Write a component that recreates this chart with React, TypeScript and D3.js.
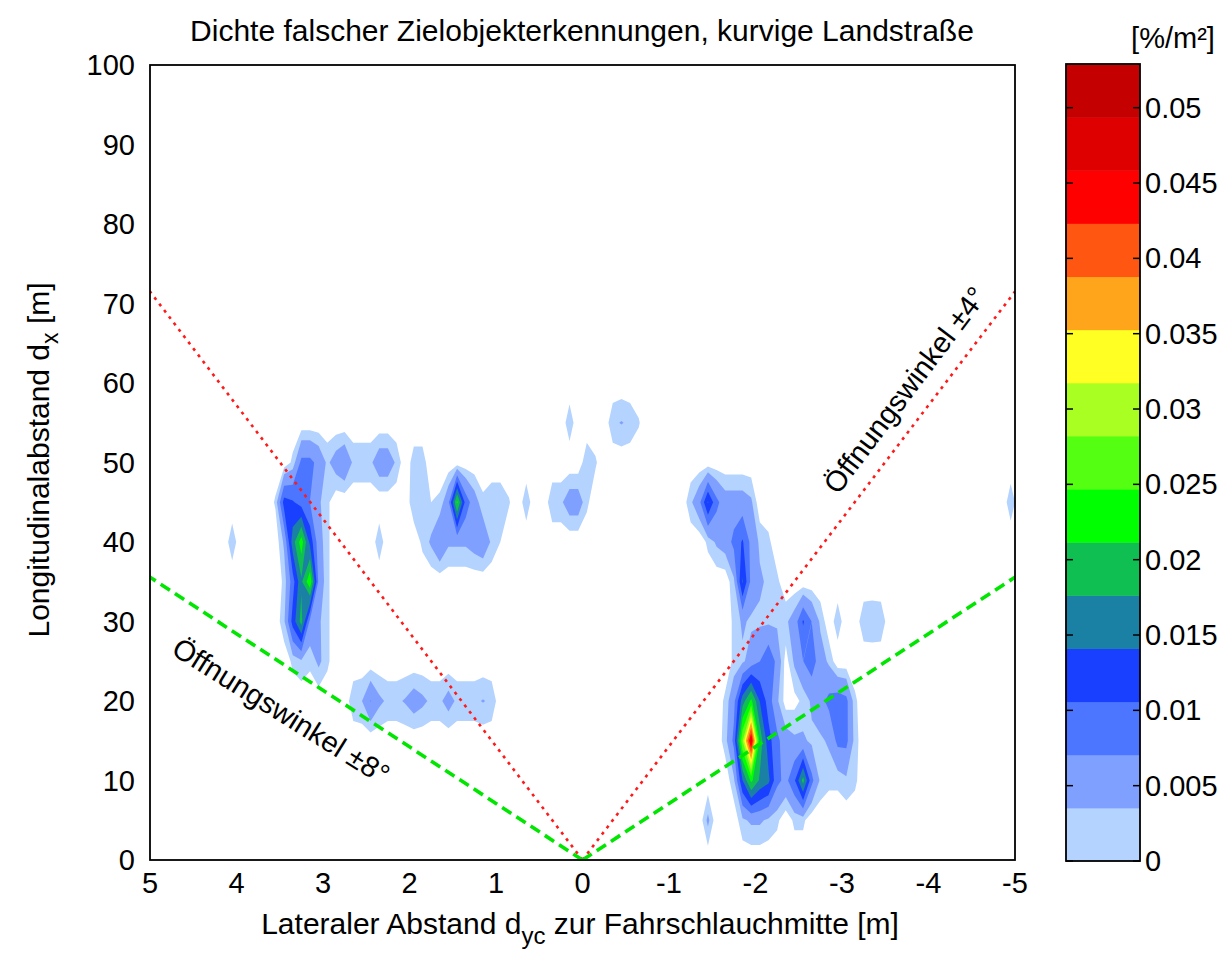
import React from "react";
import * as d3 from "d3";

const TITLE = "Dichte falscher Zielobjekterkennungen, kurvige Landstraße";
const UNIT_LABEL = "[%/m²]";
const X_TICKS = [5, 4, 3, 2, 1, 0, -1, -2, -3, -4, -5];
const Y_TICKS = [0, 10, 20, 30, 40, 50, 60, 70, 80, 90, 100];
const CB_TICKS = [0, 0.005, 0.01, 0.015, 0.02, 0.025, 0.03, 0.035, 0.04, 0.045, 0.05];
const CB_LABELS = ["0", "0.005", "0.01", "0.015", "0.02", "0.025", "0.03", "0.035", "0.04", "0.045", "0.05"];
const LEVEL_COLORS = [
  "#b4d3fe", "#80a0ff", "#4c76ff", "#1a40ff", "#1a80a4", "#10bf52", "#00ff00", "#55ff12",
  "#aaff22", "#ffff24", "#ffa51c", "#ff5612", "#ff0000", "#de0000", "#c40000",
];
const C_MAX = 0.0529;
const LOWEST_LEVEL = 0.0015;
const OPENING_ANGLES = [4, 8];

// grid: lateral cell centres 4.95 ... -4.95 (0.1 m), longitudinal rows 0 ... 100 (5 m)
const LAT_FIRST = 4.95;
const LAT_STEP = 0.1;
const N_LAT = 100;
const LON_STEP = 5;
const N_LON = 21;

// [lateral m, longitudinal m, density %/m²]
const CELLS_LEFT_BLOB: [number, number, number][] = [
  [4.05, 40, 0.0028],
  [3.35, 50, 0.002], [3.25, 50, 0.008], [3.15, 50, 0.008], [3.05, 50, 0.006], [2.95, 50, 0.003],
  [3.55, 45, 0.0018], [3.45, 45, 0.012], [3.35, 45, 0.011], [3.25, 45, 0.009], [3.15, 45, 0.007], [3.05, 45, 0.004], [2.95, 45, 0.002],
  [3.45, 40, 0.004], [3.35, 40, 0.016], [3.25, 40, 0.023], [3.15, 40, 0.013], [3.05, 40, 0.005], [2.95, 40, 0.002],
  [3.45, 35, 0.002], [3.35, 35, 0.009], [3.25, 35, 0.017], [3.15, 35, 0.024], [3.05, 35, 0.006], [2.95, 35, 0.002],
  [3.45, 30, 0.003], [3.35, 30, 0.012], [3.25, 30, 0.019], [3.15, 30, 0.006], [3.05, 30, 0.004], [2.95, 30, 0.002],
  [3.35, 25, 0.002], [3.25, 25, 0.003], [3.15, 25, 0.002], [3.05, 25, 0.0042], [2.95, 25, 0.002],
];

const CELLS_MID_LEFT: [number, number, number][] = [
  [2.85, 50, 0.005], [2.75, 50, 0.0065], [2.65, 50, 0.003], [2.55, 50, 0.003], [2.45, 50, 0.003],
  [2.35, 50, 0.0055], [2.25, 50, 0.0055], [2.15, 50, 0.003], [1.95, 50, 0.0025], [1.85, 50, 0.0025],
  [2.35, 40, 0.0028],
  [1.95, 45, 0.003], [1.85, 45, 0.003], [1.75, 45, 0.0015], [1.65, 45, 0.002], [1.55, 45, 0.006],
  [1.45, 45, 0.022], [1.35, 45, 0.009], [1.25, 45, 0.005], [1.15, 45, 0.002], [1.05, 45, 0.003],
  [0.95, 45, 0.003], [0.85, 45, 0.0017],
  [1.85, 40, 0.002], [1.75, 40, 0.004], [1.65, 40, 0.007], [1.55, 40, 0.004], [1.45, 40, 0.004],
  [1.35, 40, 0.004], [1.25, 40, 0.005], [1.15, 40, 0.006], [1.05, 40, 0.003], [0.95, 40, 0.0015],
];

const CELLS_STRIP_20: [number, number, number][] = [
  [2.65, 20, 0.003], [2.55, 20, 0.0035], [2.45, 20, 0.0072], [2.35, 20, 0.0042], [2.25, 20, 0.003],
  [2.15, 20, 0.003], [2.05, 20, 0.0038], [1.95, 20, 0.0052], [1.85, 20, 0.0042], [1.75, 20, 0.003],
  [1.65, 20, 0.003], [1.55, 20, 0.0048], [1.45, 20, 0.003], [1.35, 20, 0.003], [1.25, 20, 0.003],
  [1.15, 20, 0.0037], [1.05, 20, 0.003],
];

const CELLS_CENTER: [number, number, number][] = [
  [0.15, 55, 0.0028], [-0.35, 55, 0.003], [-0.45, 55, 0.0037], [-0.55, 55, 0.003], [-0.65, 55, 0.0017],
  [-0.05, 50, 0.003], [-0.15, 50, 0.0018],
  [0.65, 45, 0.0028], [0.35, 45, 0.003], [0.25, 45, 0.003], [0.15, 45, 0.0053], [0.05, 45, 0.0053],
  [-0.05, 45, 0.002],
  [-4.95, 45, 0.0028],
];

const CELLS_RIGHT_UPPER: [number, number, number][] = [
  [-1.25, 45, 0.003], [-1.35, 45, 0.006], [-1.45, 45, 0.0145], [-1.55, 45, 0.008], [-1.65, 45, 0.005],
  [-1.75, 45, 0.005], [-1.85, 45, 0.005], [-1.95, 45, 0.004],
  [-1.45, 40, 0.002], [-1.55, 40, 0.004], [-1.65, 40, 0.005], [-1.75, 40, 0.008], [-1.85, 40, 0.011],
  [-1.95, 40, 0.006], [-2.05, 40, 0.003], [-2.15, 40, 0.002],
  [-1.75, 35, 0.003], [-1.85, 35, 0.0145], [-1.95, 35, 0.006], [-2.05, 35, 0.004], [-2.15, 35, 0.003], [-2.25, 35, 0.002],
];

const CELLS_RIGHT_LOWER: [number, number, number][] = [
  [-1.75, 30, 0.002], [-1.85, 30, 0.004], [-1.95, 30, 0.003], [-2.05, 30, 0.003], [-2.15, 30, 0.003],
  [-2.25, 30, 0.003], [-2.35, 30, 0.003], [-2.45, 30, 0.005], [-2.55, 30, 0.011], [-2.65, 30, 0.007],
  [-2.75, 30, 0.003], [-2.95, 30, 0.0028], [-3.25, 30, 0.003], [-3.35, 30, 0.0032], [-3.45, 30, 0.003],
  [-1.75, 25, 0.002], [-1.85, 25, 0.003], [-1.95, 25, 0.005], [-2.05, 25, 0.007], [-2.15, 25, 0.010],
  [-2.25, 25, 0.006], [-2.35, 25, 0.0005], [-2.45, 25, 0.004], [-2.55, 25, 0.007], [-2.65, 25, 0.009],
  [-2.75, 25, 0.005], [-2.85, 25, 0.003],
  [-1.65, 20, 0.002], [-1.75, 20, 0.006], [-1.85, 20, 0.016], [-1.95, 20, 0.022], [-2.05, 20, 0.014],
  [-2.15, 20, 0.009], [-2.25, 20, 0.004], [-2.35, 20, 0.0005], [-2.45, 20, 0.0008], [-2.55, 20, 0.002],
  [-2.65, 20, 0.004], [-2.75, 20, 0.006], [-2.85, 20, 0.008], [-2.95, 20, 0.009], [-3.05, 20, 0.008],
  [-3.15, 20, 0.002],
  [-1.65, 15, 0.0025], [-1.75, 15, 0.008], [-1.85, 15, 0.028], [-1.95, 15, 0.047], [-2.05, 15, 0.020],
  [-2.15, 15, 0.012], [-2.25, 15, 0.008], [-2.35, 15, 0.005], [-2.45, 15, 0.004], [-2.55, 15, 0.004],
  [-2.65, 15, 0.003], [-2.75, 15, 0.003], [-2.85, 15, 0.004], [-2.95, 15, 0.008], [-3.05, 15, 0.008],
  [-3.15, 15, 0.0025],
  [-1.75, 10, 0.003], [-1.85, 10, 0.014], [-1.95, 10, 0.022], [-2.05, 10, 0.017], [-2.15, 10, 0.015],
  [-2.25, 10, 0.008], [-2.35, 10, 0.006], [-2.45, 10, 0.010], [-2.55, 10, 0.019], [-2.65, 10, 0.008],
  [-2.75, 10, 0.003], [-2.85, 10, 0.002], [-2.95, 10, 0.002], [-3.05, 10, 0.003], [-3.15, 10, 0.002],
  [-1.45, 5, 0.0042], [-1.85, 5, 0.003], [-1.95, 5, 0.004], [-2.05, 5, 0.004], [-2.15, 5, 0.003],
  [-2.25, 5, 0.002], [-2.45, 5, 0.002], [-2.55, 5, 0.002],
];

const FONT = "'Liberation Sans', Arial, Helvetica, sans-serif";

export default function App() {
  const W = 1231;
  const H = 957;
  const P = { left: 150, right: 1015, top: 65, bottom: 860 };
  const x = d3.scaleLinear().domain([5, -5]).range([P.left, P.right]);
  const y = d3.scaleLinear().domain([0, 100]).range([P.bottom, P.top]);

  const allCells = [
    ...CELLS_LEFT_BLOB, ...CELLS_MID_LEFT, ...CELLS_STRIP_20,
    ...CELLS_CENTER, ...CELLS_RIGHT_UPPER, ...CELLS_RIGHT_LOWER,
  ];
  const values = new Array(N_LAT * N_LON).fill(0);
  for (const [lat, lon, v] of allCells) {
    const i = Math.round((LAT_FIRST - lat) / LAT_STEP);
    const j = Math.round(lon / LON_STEP);
    if (i >= 0 && i < N_LAT && j >= 0 && j < N_LON) values[i + j * N_LAT] = v;
  }
  const step = C_MAX / LEVEL_COLORS.length;
  const thresholds = LEVEL_COLORS.map((_, k) => (k === 0 ? LOWEST_LEVEL : k * step));
  const contours = d3.contours().size([N_LAT, N_LON]).thresholds(thresholds)(values);

  const gx = (g: number) => x(LAT_FIRST - LAT_STEP * (g - 0.5));
  const gy = (g: number) => y(LON_STEP * (g - 0.5));
  const toPath = (mp: number[][][][]) =>
    mp
      .map((poly) =>
        poly
          .map((ring) => "M" + ring.map(([a, b]) => `${gx(a).toFixed(2)},${gy(b).toFixed(2)}`).join("L") + "Z")
          .join("")
      )
      .join("");

  const cbX0 = 1066;
  const cbX1 = 1140;
  const cb = d3.scaleLinear().domain([0, C_MAX]).range([861, 64]);

  const lineEnd = (deg: number, side: number) => [side * 5, 5 / Math.tan((deg * Math.PI) / 180)];

  return (
    <svg width={W} height={H} style={{ position: "absolute", left: 0, top: 0, background: "#fff" }} fontFamily={FONT}>
      <defs>
        <clipPath id="plotclip">
          <rect x={P.left} y={P.top} width={P.right - P.left} height={P.bottom - P.top} />
        </clipPath>
      </defs>
      <rect x={0} y={0} width={W} height={H} fill="#fff" />
      <g clipPath="url(#plotclip)">
        {contours.map((c, k) => (
          <path key={k} d={toPath(c.coordinates as any)} fill={LEVEL_COLORS[k]} fillRule="evenodd" />
        ))}
        {OPENING_ANGLES.map((deg) =>
          [1, -1].map((side) => {
            const [ex, ey] = lineEnd(deg, side);
            const red = deg === 4;
            return (
              <line
                key={deg + "_" + side}
                x1={x(0)} y1={y(0)} x2={x(ex)} y2={y(ey)}
                stroke={red ? "#ff1a1a" : "#00e600"}
                strokeWidth={red ? 2.6 : 3.6}
                strokeDasharray={red ? "3 5" : "11 6"}
              />
            );
          })
        )}
      </g>
      <rect x={P.left} y={P.top} width={P.right - P.left} height={P.bottom - P.top} fill="none" stroke="#000" strokeWidth={1.8} />

      {/* opening-angle labels */}
      <text x={905} y={390} fontSize={29} textAnchor="middle" dominantBaseline="central" transform="rotate(-53 905 390)">
        Öffnungswinkel ±4°
      </text>
      <text x={281} y={711} fontSize={29} textAnchor="middle" dominantBaseline="central" transform="rotate(32 281 711)">
        Öffnungswinkel ±8°
      </text>

      {/* axes ticks */}
      {Y_TICKS.map((t) => (
        <text key={"y" + t} x={135} y={y(t)} fontSize={29} textAnchor="end" dominantBaseline="central">
          {t}
        </text>
      ))}
      {X_TICKS.map((t) => (
        <text key={"x" + t} x={x(t)} y={893} fontSize={29} textAnchor="middle">
          {t}
        </text>
      ))}

      <text x={582} y={41} fontSize={30} textAnchor="middle">{TITLE}</text>
      <text x={580} y={934} fontSize={30} textAnchor="middle">
        Lateraler Abstand d<tspan dy={10} fontSize={24}>yc</tspan>
        <tspan dy={-10}> zur Fahrschlauchmitte [m]</tspan>
      </text>
      <text transform="translate(49 460) rotate(-90)" fontSize={30} textAnchor="middle">
        Longitudinalabstand d<tspan dy={9} fontSize={23}>x</tspan>
        <tspan dy={-9}> [m]</tspan>
      </text>

      {/* colorbar */}
      {LEVEL_COLORS.map((c, k) => (
        <rect key={"cb" + k} x={cbX0} y={cb((k + 1) * step)} width={cbX1 - cbX0} height={cb(k * step) - cb((k + 1) * step) + 0.5} fill={c} />
      ))}
      <rect x={cbX0} y={cb(C_MAX)} width={cbX1 - cbX0} height={cb(0) - cb(C_MAX)} fill="none" stroke="#000" strokeWidth={1.8} />
      {CB_TICKS.map((t, k) => (
        <g key={"cbt" + k}>
          <line x1={cbX0} x2={cbX0 + 7} y1={cb(t)} y2={cb(t)} stroke="#000" strokeWidth={1.5} />
          <line x1={cbX1 - 7} x2={cbX1} y1={cb(t)} y2={cb(t)} stroke="#000" strokeWidth={1.5} />
          <text x={cbX1 + 5} y={cb(t)} fontSize={29} dominantBaseline="central">{CB_LABELS[k]}</text>
        </g>
      ))}
      <text x={1173} y={48} fontSize={29} textAnchor="middle">{UNIT_LABEL}</text>
    </svg>
  );
}
